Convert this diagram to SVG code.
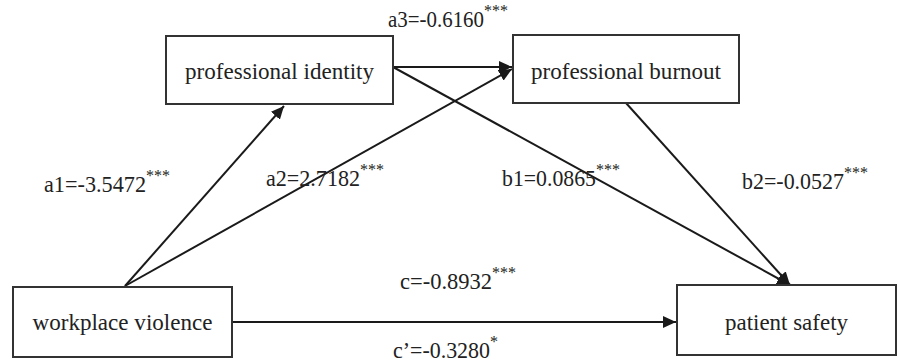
<svg xmlns="http://www.w3.org/2000/svg" width="898" height="363" viewBox="0 0 898 363">
<style>
text{font-size:23px;fill:#222}
.node{text-anchor:middle}
.sup{font-size:16px}
.box{fill:#fff;stroke:#333;stroke-width:2}
.edge{stroke:#1a1a1a;stroke-width:2;fill:none;marker-end:url(#ah)}
</style>
<defs>
<marker id="ah" markerUnits="userSpaceOnUse" markerWidth="14" markerHeight="12" refX="13" refY="6" orient="auto">
<path d="M0,0 L13,6 L0,12 Z" fill="#1a1a1a"/>
</marker>
</defs>
<rect width="898" height="363" fill="#fff"/>
<g id="connectors">
<path class="edge" d="M125,286 L284,106"/>
<path class="edge" d="M125,286 L512,69"/>
<path class="edge" d="M393,67 L512,67"/>
<path class="edge" d="M393,67 L790,285"/>
<path class="edge" d="M626,103 L790,285"/>
<path class="edge" d="M232,322 L676,322"/>
</g>
<g font-family="Liberation Serif, Tinos, Times New Roman, DejaVu Serif, serif">
<g id="node-identity">
<rect class="box" x="166" y="36" width="227" height="68"/>
<text class="node" x="279.5" y="79" textLength="189" lengthAdjust="spacingAndGlyphs">professional identity</text>
</g>
<g id="node-burnout">
<rect class="box" x="513" y="35" width="226" height="68"/>
<text class="node" x="626" y="79" textLength="190" lengthAdjust="spacingAndGlyphs">professional burnout</text>
</g>
<g id="node-violence">
<rect class="box" x="13" y="287" width="219" height="70"/>
<text class="node" x="122.5" y="330" textLength="180" lengthAdjust="spacingAndGlyphs">workplace violence</text>
</g>
<g id="node-safety">
<rect class="box" x="677" y="285" width="219" height="70"/>
<text class="node" x="786.5" y="330" textLength="123" lengthAdjust="spacingAndGlyphs">patient safety</text>
</g>
<g id="labels">
<text x="388" y="27"><tspan textLength="96" lengthAdjust="spacingAndGlyphs">a3=-0.6160</tspan><tspan class="sup" dy="-11">***</tspan></text>
<text x="44" y="192"><tspan textLength="102" lengthAdjust="spacingAndGlyphs">a1=-3.5472</tspan><tspan class="sup" dy="-11">***</tspan></text>
<text x="266" y="186"><tspan textLength="94" lengthAdjust="spacingAndGlyphs">a2=2.7182</tspan><tspan class="sup" dy="-11">***</tspan></text>
<text x="502" y="186"><tspan textLength="94" lengthAdjust="spacingAndGlyphs">b1=0.0865</tspan><tspan class="sup" dy="-11">***</tspan></text>
<text x="742" y="189"><tspan textLength="102" lengthAdjust="spacingAndGlyphs">b2=-0.0527</tspan><tspan class="sup" dy="-11">***</tspan></text>
<text x="400" y="289"><tspan textLength="92" lengthAdjust="spacingAndGlyphs">c=-0.8932</tspan><tspan class="sup" dy="-11">***</tspan></text>
<text x="393" y="358"><tspan textLength="97" lengthAdjust="spacingAndGlyphs">c’=-0.3280</tspan><tspan class="sup" dy="-11">*</tspan></text>
</g>
</g>
</svg>
